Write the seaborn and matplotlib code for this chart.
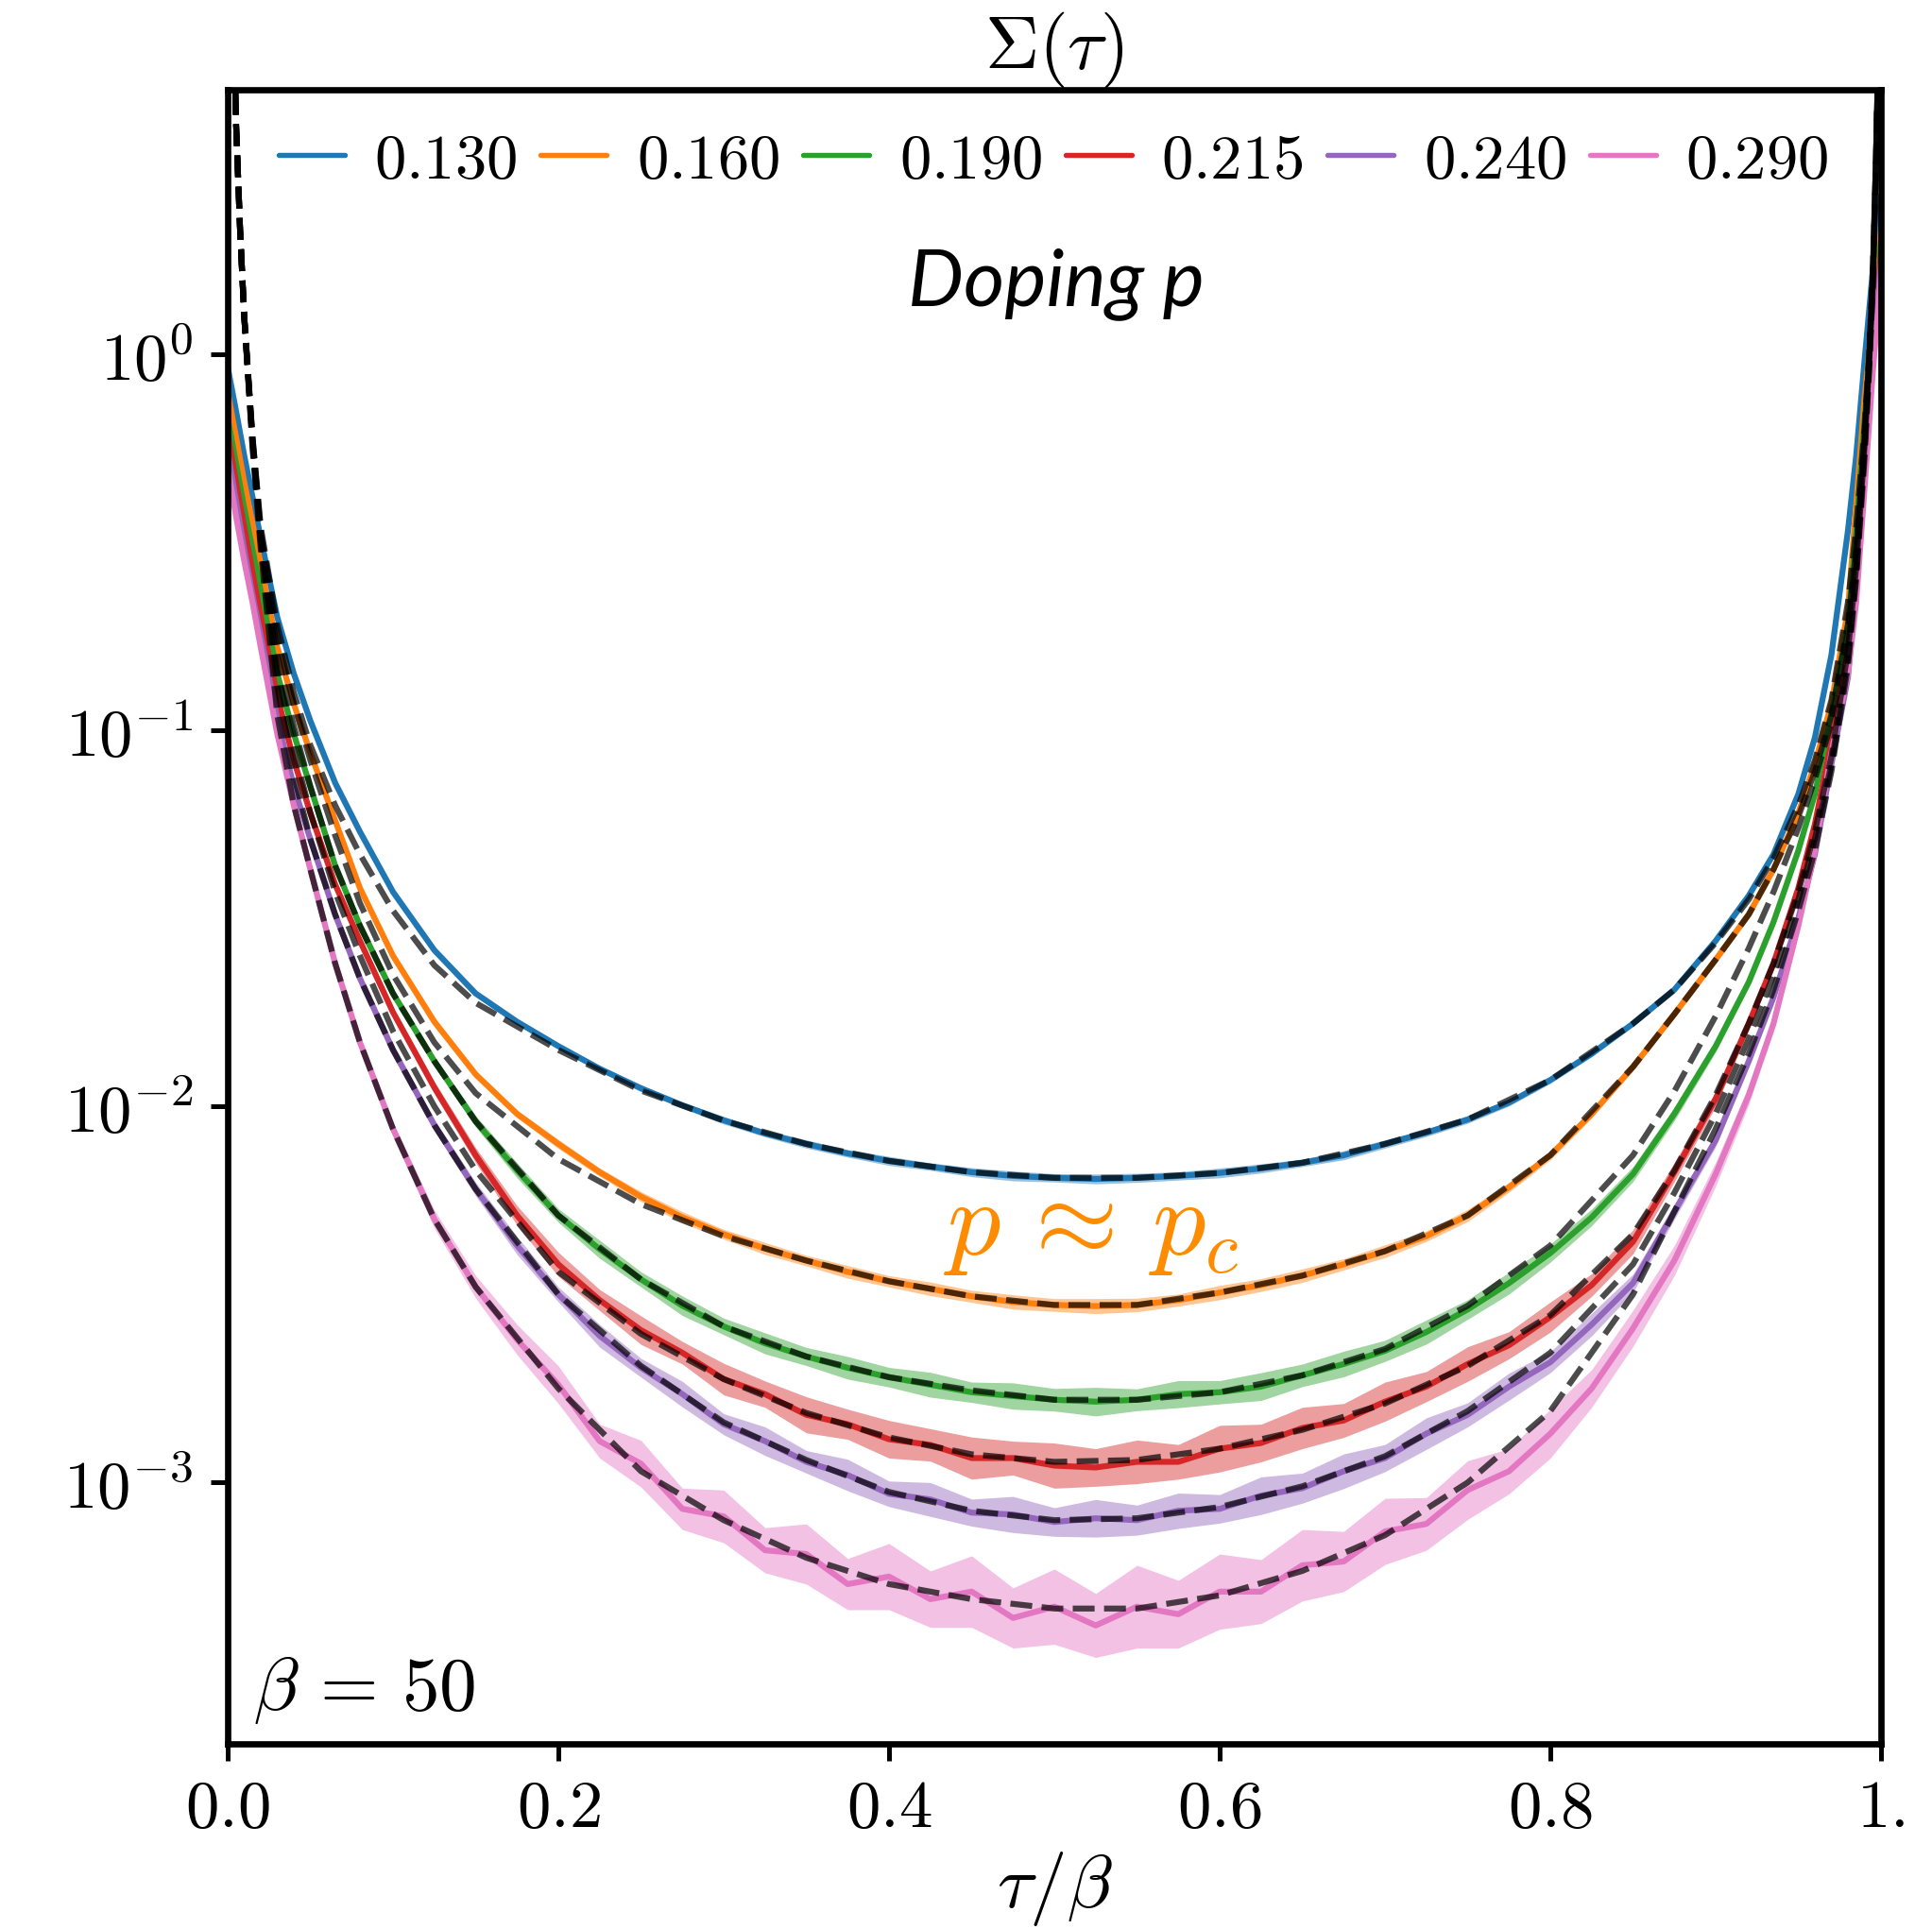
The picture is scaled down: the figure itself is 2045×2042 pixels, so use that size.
import numpy as np
import matplotlib
matplotlib.use("Agg")
import matplotlib.pyplot as plt
import seaborn as sns
from matplotlib.lines import Line2D
from matplotlib.ticker import NullLocator

# ---------------- data ----------------
dopings = ["0.130", "0.160", "0.190", "0.215", "0.240", "0.290"]

tau = [0.0, 0.005, 0.01, 0.015, 0.02, 0.03, 0.04, 0.05, 0.065, 0.08, 0.1, 0.125,
       0.15, 0.175, 0.2, 0.225, 0.25, 0.275, 0.3, 0.325, 0.35, 0.375, 0.4, 0.425,
       0.45, 0.475, 0.5, 0.525, 0.55, 0.575, 0.6, 0.625, 0.65, 0.675, 0.7, 0.725,
       0.75, 0.775, 0.8, 0.825, 0.85, 0.875,
       0.9, 0.92, 0.935, 0.95, 0.96, 0.97, 0.98, 0.985, 0.99, 0.995, 1.0]

# log10 Sigma(tau) of the QMC data
log_sigma_130 = [-0.035, -0.15, -0.27, -0.38, -0.49, -0.70, -0.85, -0.975, -1.14, -1.27, -1.43, -1.585,
                 -1.70, -1.775, -1.84, -1.90, -1.952, -1.997, -2.037, -2.072, -2.10, -2.125, -2.145, -2.16,
                 -2.175, -2.185, -2.19, -2.193, -2.19, -2.185, -2.177, -2.165, -2.15, -2.13, -2.10, -2.07,
                 -2.035, -1.99, -1.93, -1.86, -1.78, -1.69,
                 -1.56, -1.44, -1.33, -1.17, -1.02, -0.80, -0.47, -0.27, -0.02, 0.22, 0.42]
log_sigma_160 = [-0.10, -0.22, -0.34, -0.45, -0.56, -0.78, -0.93, -1.06, -1.24, -1.42, -1.60, -1.775,
                 -1.915, -2.02, -2.10, -2.175, -2.24, -2.295, -2.34, -2.378, -2.41, -2.44, -2.465, -2.485,
                 -2.505, -2.52, -2.528, -2.531, -2.528, -2.515, -2.495, -2.475, -2.45, -2.42, -2.385, -2.345,
                 -2.29, -2.215, -2.13, -2.02, -1.895, -1.755,
                 -1.61, -1.49, -1.37, -1.22, -1.09, -0.93, -0.68, -0.40, -0.12, 0.10, 0.33]
log_sigma_190 = [-0.17, -0.29, -0.41, -0.52, -0.63, -0.85, -1.01, -1.15, -1.36, -1.52, -1.70, -1.88,
                 -2.04, -2.17, -2.29, -2.38, -2.46, -2.53, -2.585, -2.63, -2.665, -2.695, -2.72, -2.74,
                 -2.76, -2.77, -2.78, -2.785, -2.78, -2.765, -2.76, -2.745, -2.715, -2.685, -2.65, -2.60,
                 -2.54, -2.47, -2.39, -2.295, -2.18, -2.02,
                 -1.84, -1.67, -1.51, -1.32, -1.17, -0.96, -0.72, -0.47, -0.18, 0.08, 0.30]
log_sigma_215 = [-0.21, -0.34, -0.46, -0.58, -0.70, -0.91, -1.08, -1.22, -1.41, -1.56, -1.75, -1.95,
                 -2.13, -2.29, -2.42, -2.515, -2.595, -2.655, -2.725, -2.765, -2.82, -2.845, -2.885, -2.90,
                 -2.935, -2.935, -2.955, -2.96, -2.945, -2.945, -2.91, -2.895, -2.855, -2.835, -2.785, -2.745,
                 -2.685, -2.635, -2.56, -2.475, -2.36, -2.175,
                 -1.98, -1.78, -1.62, -1.42, -1.25, -1.03, -0.79, -0.55, -0.24, 0.04, 0.27]
log_sigma_240 = [-0.26, -0.39, -0.52, -0.64, -0.75, -0.97, -1.15, -1.29, -1.49, -1.66, -1.85, -2.05,
                 -2.22, -2.37, -2.50, -2.61, -2.695, -2.765, -2.845, -2.89, -2.945, -2.98, -3.03, -3.045,
                 -3.08, -3.085, -3.105, -3.095, -3.10, -3.075, -3.07, -3.035, -3.015, -2.97, -2.935, -2.87,
                 -2.82, -2.745, -2.68, -2.58, -2.47, -2.28,
                 -2.09, -1.88, -1.71, -1.50, -1.33, -1.09, -0.86, -0.62, -0.30, 0.0, 0.24]
log_sigma_290 = [-0.30, -0.43, -0.55, -0.66, -0.78, -1.01, -1.20, -1.37, -1.62, -1.83, -2.06, -2.30,
                 -2.48, -2.62, -2.74, -2.89, -2.95, -3.07, -3.09, -3.18, -3.19, -3.27, -3.25, -3.31,
                 -3.29, -3.36, -3.33, -3.38, -3.33, -3.35, -3.29, -3.29, -3.22, -3.21, -3.13, -3.11,
                 -3.02, -2.97, -2.87, -2.75, -2.59, -2.41,
                 -2.18, -1.97, -1.78, -1.52, -1.32, -1.06, -0.85, -0.66, -0.36, -0.05, 0.21]

# half width of the shaded error band, in decades
err_130 = [0, 0, 0, 0, 0, 0, 0.002, 0.002, 0.003, 0.003, 0.004, 0.005,
           0.006, 0.007, 0.008, 0.007, 0.009, 0.008, 0.01, 0.009, 0.011, 0.01,
           0.012, 0.01, 0.012, 0.013, 0.011, 0.013, 0.012, 0.011, 0.013, 0.012,
           0.01, 0.012, 0.011, 0.01, 0.01, 0.009, 0.009, 0.008, 0.007, 0.006,
           0.005, 0.004, 0.004, 0.003, 0.003, 0.002, 0.002, 0, 0, 0, 0]
err_160 = [0, 0, 0, 0, 0, 0, 0.002, 0.003, 0.004, 0.005, 0.006, 0.007,
           0.009, 0.01, 0.012, 0.011, 0.013, 0.015, 0.013, 0.016, 0.014, 0.017,
           0.015, 0.018, 0.016, 0.019, 0.017, 0.02, 0.018, 0.016, 0.019, 0.017,
           0.018, 0.015, 0.017, 0.014, 0.016, 0.013, 0.012, 0.011, 0.01, 0.009,
           0.008, 0.007, 0.006, 0.005, 0.004, 0.003, 0.002, 0, 0, 0, 0]
err_190 = [0, 0, 0, 0, 0, 0, 0.003, 0.004, 0.006, 0.008, 0.01, 0.012,
           0.015, 0.02, 0.018, 0.024, 0.02, 0.026, 0.022, 0.028, 0.024, 0.03,
           0.026, 0.033, 0.027, 0.035, 0.03, 0.038, 0.029, 0.036, 0.031, 0.037,
           0.03, 0.034, 0.028, 0.032, 0.026, 0.029, 0.024, 0.022, 0.02, 0.018,
           0.015, 0.012, 0.01, 0.008, 0.006, 0.005, 0.004, 0.002, 0, 0, 0]
err_215 = [0, 0, 0, 0, 0, 0, 0.004, 0.006, 0.008, 0.01, 0.013, 0.016,
           0.02, 0.026, 0.032, 0.028, 0.038, 0.03, 0.042, 0.035, 0.048, 0.04,
           0.05, 0.043, 0.056, 0.045, 0.06, 0.05, 0.058, 0.046, 0.062, 0.05,
           0.055, 0.045, 0.052, 0.04, 0.046, 0.036, 0.04, 0.03, 0.032, 0.025,
           0.02, 0.016, 0.013, 0.01, 0.008, 0.006, 0.004, 0.002, 0, 0, 0]
err_240 = [0, 0, 0, 0, 0, 0, 0.004, 0.005, 0.007, 0.009, 0.012, 0.015,
           0.018, 0.024, 0.02, 0.03, 0.025, 0.034, 0.028, 0.038, 0.03, 0.042,
           0.034, 0.045, 0.036, 0.048, 0.038, 0.05, 0.04, 0.047, 0.038, 0.05,
           0.04, 0.046, 0.036, 0.042, 0.032, 0.036, 0.028, 0.03, 0.024, 0.02,
           0.017, 0.014, 0.011, 0.009, 0.007, 0.005, 0.004, 0.002, 0, 0, 0]
err_290 = [0, 0, 0, 0, 0, 0, 0.006, 0.008, 0.011, 0.014, 0.018, 0.024,
           0.03, 0.04, 0.05, 0.045, 0.062, 0.055, 0.07, 0.06, 0.08, 0.068,
           0.088, 0.075, 0.095, 0.08, 0.1, 0.085, 0.11, 0.09, 0.1, 0.085,
           0.095, 0.08, 0.088, 0.07, 0.078, 0.06, 0.065, 0.05, 0.048, 0.04,
           0.032, 0.025, 0.02, 0.015, 0.012, 0.009, 0.006, 0.003, 0, 0, 0]

# fitted curves (dashed), log10 values
tau_fit = [0.003, 0.005, 0.0075, 0.01, 0.015, 0.02, 0.03, 0.04, 0.05, 0.065, 0.08, 0.1,
           0.125, 0.15, 0.2, 0.25, 0.3, 0.35, 0.4, 0.45, 0.5, 0.55, 0.6, 0.65, 0.7, 0.75,
           0.8, 0.85, 0.875, 0.9, 0.92, 0.935, 0.95, 0.96, 0.97, 0.98, 0.985, 0.99, 0.993,
           0.995, 0.997, 0.998]
log_fit_130 = [1.05, 0.62, 0.33, 0.10, -0.22, -0.46, -0.72, -0.90, -1.04, -1.20, -1.33, -1.48,
               -1.625, -1.725, -1.85, -1.958, -2.038, -2.10, -2.145, -2.175, -2.19, -2.19, -2.177, -2.15,
               -2.10, -2.035, -1.93, -1.78, -1.69, -1.565, -1.45, -1.34, -1.20, -1.08, -0.92, -0.66,
               -0.46, -0.20, 0.02, 0.22, 0.52, 0.72]
log_fit_160 = [1.05, 0.62, 0.33, 0.10, -0.22, -0.47, -0.75, -0.93, -1.08, -1.28, -1.46, -1.65,
               -1.83, -1.965, -2.14, -2.26, -2.345, -2.41, -2.465, -2.505, -2.528, -2.528, -2.495, -2.45,
               -2.385, -2.29, -2.13, -1.895, -1.755, -1.61, -1.49, -1.37, -1.23, -1.11, -0.96, -0.72,
               -0.52, -0.22, 0.01, 0.21, 0.52, 0.72]
log_fit_190 = [1.05, 0.62, 0.33, 0.10, -0.23, -0.48, -0.80, -0.99, -1.15, -1.36, -1.52, -1.70,
               -1.88, -2.04, -2.29, -2.46, -2.585, -2.665, -2.72, -2.755, -2.78, -2.78, -2.76, -2.715,
               -2.645, -2.53, -2.37, -2.13, -1.96, -1.76, -1.58, -1.43, -1.26, -1.13, -0.98, -0.74,
               -0.53, -0.23, 0.0, 0.2, 0.52, 0.72]
log_fit_215 = [1.05, 0.62, 0.33, 0.10, -0.23, -0.49, -0.84, -1.05, -1.22, -1.43, -1.60, -1.80,
               -2.00, -2.17, -2.44, -2.605, -2.725, -2.815, -2.88, -2.925, -2.945, -2.94, -2.91, -2.86,
               -2.79, -2.69, -2.555, -2.34, -2.17, -1.97, -1.78, -1.62, -1.43, -1.27, -1.07, -0.79,
               -0.57, -0.25, -0.01, 0.19, 0.52, 0.72]
log_fit_240 = [1.05, 0.62, 0.33, 0.10, -0.24, -0.50, -0.88, -1.12, -1.29, -1.49, -1.66, -1.85,
               -2.05, -2.22, -2.50, -2.69, -2.84, -2.94, -3.025, -3.075, -3.10, -3.095, -3.065, -3.01,
               -2.93, -2.81, -2.655, -2.42, -2.23, -2.02, -1.82, -1.65, -1.45, -1.29, -1.09, -0.81,
               -0.58, -0.26, -0.02, 0.18, 0.52, 0.72]
log_fit_290 = [1.05, 0.62, 0.33, 0.10, -0.25, -0.52, -0.96, -1.20, -1.37, -1.62, -1.83, -2.06,
               -2.30, -2.48, -2.75, -2.97, -3.10, -3.20, -3.27, -3.31, -3.335, -3.335, -3.30, -3.235,
               -3.14, -3.00, -2.81, -2.50, -2.28, -2.06, -1.86, -1.69, -1.48, -1.32, -1.11, -0.83,
               -0.60, -0.28, -0.03, 0.17, 0.52, 0.72]

series_log = [log_sigma_130, log_sigma_160, log_sigma_190, log_sigma_215, log_sigma_240, log_sigma_290]
series_err = [err_130, err_160, err_190, err_215, err_240, err_290]
series_fit = [log_fit_130, log_fit_160, log_fit_190, log_fit_215, log_fit_240, log_fit_290]

y_ticks = [1.0, 0.1, 0.01, 0.001]
y_ticklabels = [r"$10^{0}$", r"$10^{-1}$", r"$10^{-2}$", r"$10^{-3}$"]
x_ticks = [0.0, 0.2, 0.4, 0.6, 0.8, 1.0]
x_ticklabels = [r"$0.0$", r"$0.2$", r"$0.4$", r"$0.6$", r"$0.8$", r"$1.$"]

# ---------------- style ----------------
sns.set_theme(style="ticks")
plt.rcParams.update({
    "font.family": ["DejaVu Serif"],
    "mathtext.fontset": "cm",
    "text.color": "black",
    "axes.labelcolor": "black",
    "axes.edgecolor": "black",
    "xtick.color": "black",
    "ytick.color": "black",
    "axes.linewidth": 1.6,
})

pal = sns.color_palette("tab10")
colors = [pal[0], pal[1], pal[2], pal[3], pal[4], pal[6]]

fig = plt.figure(figsize=(2045 / 300, 2043 / 300), dpi=300)
ax = fig.add_axes([0.11785, 0.09594, 0.85575, 0.85707])
ax.set_yscale("log")

tau_arr = np.array(tau)
for lg, er, c in zip(series_log, series_err, colors):
    lg = np.array(lg)
    er = np.array(er)
    ax.fill_between(tau_arr, 10 ** (lg - er), 10 ** (lg + er), color=c, alpha=0.45, lw=0, zorder=1)
    sns.lineplot(x=tau_arr, y=10 ** lg, color=c, linewidth=1.5, ax=ax,
                 estimator=None, sort=False, legend=False, zorder=2)

for fit in series_fit:
    sns.lineplot(x=np.array(tau_fit), y=10 ** np.array(fit), color="black", alpha=0.7,
                 linestyle="--", linewidth=1.5, ax=ax, estimator=None, sort=False,
                 legend=False, zorder=3)

ax.set_xlim(0, 1)
ax.set_ylim(2.02e-4, 5.04)
ax.set_yticks(y_ticks)
ax.set_yticklabels(y_ticklabels)
ax.yaxis.set_minor_locator(NullLocator())
ax.set_xticks(x_ticks)
ax.set_xticklabels(x_ticklabels)
ax.tick_params(axis="both", which="major", direction="out", length=4.4, width=1.2,
               pad=4.4, labelsize=17, top=False, right=False)
ax.tick_params(axis="x", pad=3.6)
for sp in ax.spines.values():
    sp.set_visible(True)
    sp.set_linewidth(1.6)
    sp.set_color("black")

ax.set_title(r"$\Sigma(\tau)$", fontsize=19, pad=5.5)
ax.set_xlabel(r"$\tau/\beta$", fontsize=19, labelpad=2)
ax.set_ylabel("")

handles = [Line2D([0], [0], color=c, lw=1.3) for c in colors]
ax.legend(handles, [f"${d}$" for d in dopings], loc="center", bbox_to_anchor=(0.4995, 0.9577),
          ncol=6, frameon=False, fontsize=16, handlelength=1.05, handletextpad=0.47,
          columnspacing=0.38, borderaxespad=0)

ax.text(0.501, 0.870, "Doping p", transform=ax.transAxes, ha="center", va="baseline",
        fontsize=20, family=["Lato", "DejaVu Sans"], style="italic")
ax.text(0.5226, 0.2964, r"$p\,\approx\,p_c$", transform=ax.transAxes, ha="center",
        va="baseline", fontsize=27, color="darkorange")
ax.text(0.0154, 0.021, r"$\beta\,=\,50$", transform=ax.transAxes, ha="left",
        va="baseline", fontsize=19)

fig.savefig("out.png", dpi=300)
